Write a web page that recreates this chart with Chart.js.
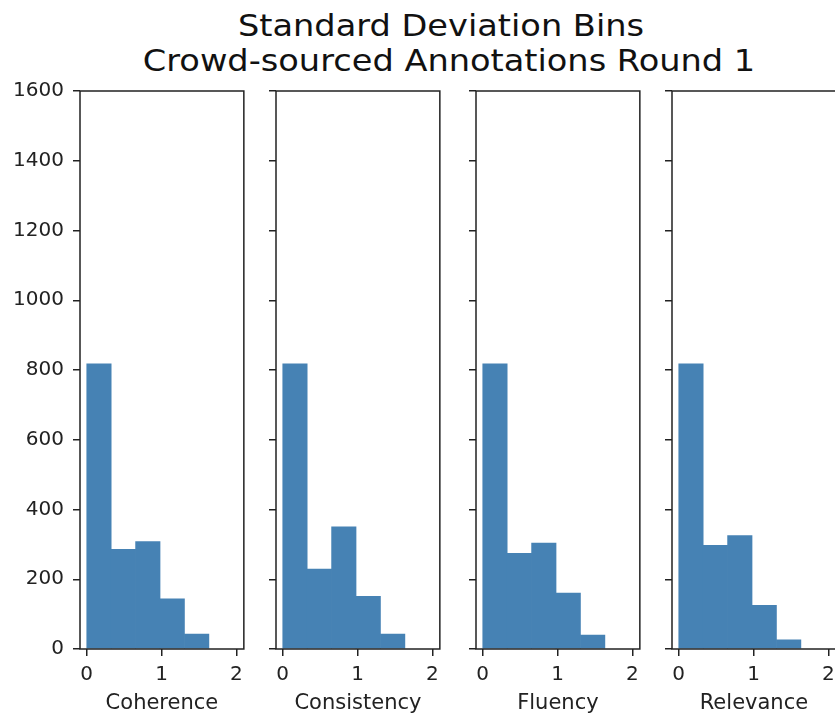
<!DOCTYPE html>
<html><head><meta charset="utf-8">
<script src="https://cdn.jsdelivr.net/npm/chart.js@4"></script>
<style>
html,body{margin:0;padding:0;background:#fff;width:835px;height:713px;overflow:hidden;}
#wrap{position:relative;width:835px;height:713px;overflow:hidden;background:#fff;}
canvas{position:absolute;}
.t{position:absolute;left:0;font-family:"DejaVu Sans";font-size:30px;line-height:30px;color:#111;text-align:center;white-space:nowrap;transform:scaleX(1.12);}
</style></head><body>
<div id="wrap">
<div class="t" id="t1" style="top:10.6px;width:882px;"></div>
<div class="t" id="t2" style="top:45.6px;width:898px;"></div>
</div>
<script>
// ---- data ----
const titleLines = ["Standard Deviation Bins", "Crowd-sourced Annotations Round 1"];
const categories = ["Coherence", "Consistency", "Fluency", "Relevance"];
const binEdges = [0, 0.327, 0.653, 0.98, 1.306, 1.633];
const coherence = [818, 286, 308, 144, 43];
const consistency = [818, 229, 350, 151, 43];
const fluency = [818, 274, 304, 160, 40];
const relevance = [818, 297, 325, 125, 26];
const xTicks = [0, 1, 2];
const yTicks = [0, 200, 400, 600, 800, 1000, 1200, 1400, 1600];

// ---- layout ----
const panelLeft = [80, 276, 476, 672];
const plotTop = 86, plotH = 563, plotW = 164;
const yAxisW = 80, padTop = 16, padRight = 6, xAxisH = 67;
const ink = '#222';
const barColor = '#4682b4';

document.getElementById('t1').textContent = titleLines[0];
document.getElementById('t2').textContent = titleLines[1];

const frame = {
  id: 'frame',
  afterDraw(c) {
    const a = c.chartArea, x = c.ctx;
    x.save();
    x.strokeStyle = ink;
    x.lineWidth = 1.5;
    x.strokeRect(a.left, a.top, a.right - a.left, a.bottom - a.top);
    x.restore();
  }
};

const wrap = document.getElementById('wrap');
const seriesList = [coherence, consistency, fluency, relevance];

seriesList.forEach((values, i) => {
  const cv = document.createElement('canvas');
  const W = yAxisW + plotW + padRight, H = padTop + plotH + xAxisH;
  cv.width = W; cv.height = H;
  cv.style.width = W + 'px'; cv.style.height = H + 'px';
  cv.style.left = (panelLeft[i] - yAxisW) + 'px';
  cv.style.top = (plotTop - padTop) + 'px';
  wrap.appendChild(cv);
  const gridOpts = {display: true, offset: false, drawOnChartArea: false, drawTicks: true,
                    tickLength: 7, color: ink, lineWidth: 1.5};
  new Chart(cv, {
    type: 'bar',
    data: {
      datasets: [{
        label: categories[i],
        data: values.map((v, k) => ({x: (binEdges[k] + binEdges[k + 1]) / 2, y: v})),
        backgroundColor: barColor,
        borderWidth: 0,
        barPercentage: 1,
        categoryPercentage: 1
      }]
    },
    options: {
      responsive: false,
      animation: false,
      devicePixelRatio: 1,
      layout: {autoPadding: false, padding: {top: padTop, right: padRight, left: 0, bottom: 0}},
      plugins: {legend: {display: false}, tooltip: {enabled: false}, title: {display: false}},
      scales: {
        x: {
          type: 'linear', min: -0.09, max: 2.1, offset: false,
          grid: gridOpts,
          border: {display: false},
          afterBuildTicks: s => { s.ticks = xTicks.map(v => ({value: v})); },
          ticks: {padding: 7, color: ink, font: {family: 'DejaVu Sans', size: 20},
                  callback: v => String(v), maxRotation: 0, autoSkip: false},
          title: {display: true, text: categories[i], color: ink,
                  font: {family: 'DejaVu Sans', size: 21}, padding: 0},
          afterFit: s => { s.height = xAxisH; }
        },
        y: {
          type: 'linear', min: 0, max: 1600,
          grid: gridOpts,
          border: {display: false},
          afterBuildTicks: s => { s.ticks = yTicks.map(v => ({value: v})); },
          ticks: {padding: 9, color: ink, font: {family: 'DejaVu Sans', size: 20},
                  callback: v => (i === 0 ? String(v) : ''), autoSkip: false},
          afterFit: s => { s.width = yAxisW; }
        }
      }
    },
    plugins: [frame]
  });
});
</script>
</body></html>
